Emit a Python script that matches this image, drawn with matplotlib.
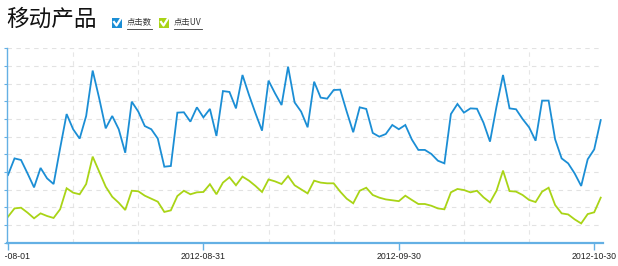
import matplotlib
matplotlib.use('Agg')
import matplotlib.pyplot as plt
import matplotlib.dates as mdates
import pandas as pd
from matplotlib.lines import Line2D
from matplotlib.patches import Rectangle
from matplotlib.transforms import Bbox

# daily values, 2012-08-01 .. 2012-10-31 (y axis has no labels, values in grid units)
dates = pd.date_range('2012-08-01', periods=92, freq='D')
clicks = [3.83, 4.77, 4.68, 3.92, 3.13, 4.23, 3.64, 3.32, 5.34, 7.28,
          6.42, 5.89, 7.17, 9.74, 8.17, 6.47, 7.17, 6.42, 5.09, 7.98,
          7.42, 6.60, 6.42, 5.89, 4.30, 4.34, 7.36, 7.38, 6.85, 7.66,
          7.09, 7.57, 6.04, 8.58, 8.53, 7.60, 9.49, 8.36, 7.32, 6.34,
          9.17, 8.45, 7.79, 9.96, 7.94, 7.42, 6.53, 9.11, 8.21, 8.15,
          8.64, 8.66, 7.42, 6.25, 7.66, 7.57, 6.21, 6.00, 6.15, 6.66,
          6.42, 6.66, 5.84, 5.25, 5.25, 5.02, 4.64, 4.49, 7.28, 7.85,
          7.36, 7.60, 7.58, 6.79, 5.72, 7.70, 9.49, 7.60, 7.55, 7.00,
          6.53, 5.77, 8.04, 8.04, 5.85, 4.77, 4.49, 3.92, 3.21, 4.72,
          5.28, 6.94]
click_uv = [1.47, 1.94, 1.98, 1.70, 1.38, 1.66, 1.51, 1.40, 1.89, 3.08,
            2.83, 2.74, 3.32, 4.87, 4.02, 3.17, 2.60, 2.26, 1.85, 2.94,
            2.91, 2.66, 2.49, 2.32, 1.74, 1.83, 2.64, 2.94, 2.74, 2.85,
            2.87, 3.31, 2.74, 3.40, 3.70, 3.25, 3.74, 3.51, 3.21, 2.87,
            3.58, 3.47, 3.32, 3.77, 3.25, 3.02, 2.79, 3.51, 3.40, 3.36,
            3.36, 2.89, 2.49, 2.23, 2.94, 3.11, 2.70, 2.55, 2.45, 2.40,
            2.35, 2.66, 2.42, 2.19, 2.19, 2.09, 1.94, 1.89, 2.85, 3.04,
            2.98, 2.85, 2.94, 2.57, 2.28, 2.94, 4.08, 2.92, 2.89, 2.70,
            2.42, 2.30, 2.89, 3.11, 2.13, 1.66, 1.60, 1.32, 1.09, 1.62,
            1.72, 2.55]
tick_dates = ['2012-08-01', '2012-08-31', '2012-09-30', '2012-10-30']
series_names = ['点击数', '点击UV']
colors = ['#1b8ed5', '#a9d416']
axis_color = '#64b0e4'

W, H = 618, 266


def fpos(x, y):
    # pixel position from top-left -> figure fraction
    return x / W, 1 - y / H


fig = plt.figure(figsize=(W / 100, H / 100), dpi=100)
ax = fig.add_axes([7 / W, 1 - 242.7 / H, (603 - 7) / W, (242.7 - 48.3) / H])

ax.plot(dates, clicks, color=colors[0], lw=1.3, solid_joinstyle='miter')
ax.plot(dates, click_uv, color=colors[1], lw=1.3, solid_joinstyle='miter')

day = pd.Timedelta(days=1)
ax.set_xlim(dates[0] - day / 6.5, dates[-1] + day * 0.35)
ax.set_ylim(0, 11)

# axes, ticks and grid
ax.set_yticks(range(12))
ax.tick_params(axis='y', length=2, color=axis_color, labelleft=False)
ax.set_xticks(pd.to_datetime(tick_dates))
ax.xaxis.set_major_formatter(mdates.DateFormatter('%Y-%m-%d'))
ax.set_xticks(pd.date_range('2012-08-11', '2012-10-30', freq='10D'), minor=True)
ax.tick_params(axis='x', which='major', length=5, color=axis_color, width=1,
               labelsize=6.3, labelcolor='#222222', pad=1.5)
ax.tick_params(axis='x', which='minor', length=0)
for lab in ax.get_xticklabels():
    lab.set_family('Liberation Sans')
# first date label is cut at the plot's left edge, as in the original
first = ax.xaxis.get_major_ticks()[0].label1
first.set_clip_box(Bbox([[5.2, 0], [W, H]]))
first.set_clip_on(True)

ax.grid(axis='y', ls=(0, (4, 4)), color='#e2e2e2', lw=0.8)
ax.grid(axis='x', which='minor', ls=(0, (4, 4)), color='#e6e6e6', lw=0.8)
ax.set_axisbelow(True)
for side in ['top', 'right']:
    ax.spines[side].set_visible(False)
ax.spines['left'].set_color(axis_color)
ax.spines['left'].set_linewidth(1)
ax.spines['bottom'].set_color(axis_color)
ax.spines['bottom'].set_linewidth(1.6)

# title
fig.text(*fpos(6, 19), '移动产品', fontsize=16.3, family=['Noto Sans CJK SC'],
         va='center', ha='left', color='#111111')

# legend with check boxes
legend_x = [112, 159]
for x0, name, c in zip(legend_x, series_names, colors):
    fig.add_artist(Rectangle(fpos(x0, 27.5), 10 / W, 10 / H,
                             transform=fig.transFigure, facecolor=c,
                             edgecolor='none'))
    cx, cy = zip(fpos(x0 + 2, 22), fpos(x0 + 4.5, 25.5), fpos(x0 + 9.5, 17.5))
    fig.add_artist(Line2D(cx, cy, transform=fig.transFigure, color='white', lw=1.6))
    t = fig.text(*fpos(x0 + 15, 23), name, fontsize=6,
                 family=['Noto Sans CJK SC', 'DejaVu Sans'],
                 va='center', ha='left', color='#333333')
    fig.canvas.draw()
    bb = t.get_window_extent()
    fig.add_artist(Line2D([bb.x0 / W, bb.x1 / W], [fpos(0, 28.5)[1]] * 2,
                          transform=fig.transFigure, color='#333333', lw=0.6))

fig.savefig('out.png', dpi=100)
